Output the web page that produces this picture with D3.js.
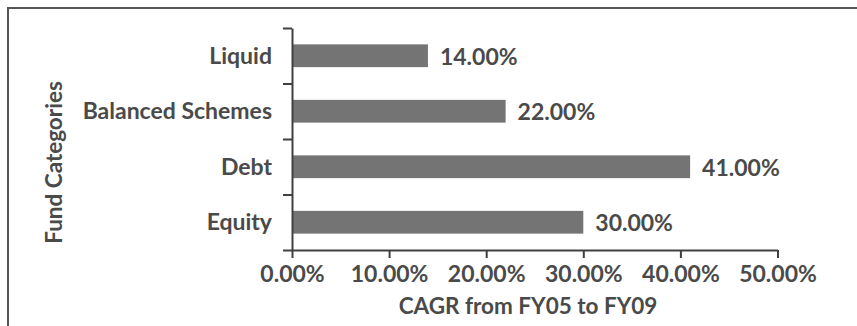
<!DOCTYPE html>
<html>
<head>
<meta charset="utf-8">
<script src="https://cdn.jsdelivr.net/npm/d3@7"></script>
<style>
  html, body { margin: 0; padding: 0; background: #fff; }
  svg { display: block; }
  text { font-family: Lato, "Open Sans", sans-serif; font-weight: 700; fill: #4a4a4a; }
</style>
</head>
<body>
<svg id="chart" width="857" height="326"></svg>
<script>
// Fund categories, listed top to bottom
const categories = ["Liquid", "Balanced Schemes", "Debt", "Equity"];
// Compound annual growth rate, FY05 to FY09
const cagr = [0.14, 0.22, 0.41, 0.30];
// Value axis tick values
const xTicks = [0, 0.1, 0.2, 0.3, 0.4, 0.5];
const xTitle = "CAGR from FY05 to FY09";
const yTitle = "Fund Categories";

const svg = d3.select("#chart");
const W = 857, H = 326;
const plot = { left: 292, right: 777.5, top: 28, bottom: 250 };
const fontSize = 23;
const titleSize = 22.5;

// Outer frame (runs off the right and bottom edges)
svg.append("rect")
  .attr("x", 8).attr("y", 8)
  .attr("width", W + 20).attr("height", H + 20)
  .attr("fill", "none")
  .attr("stroke", "#555")
  .attr("stroke-width", 2);

const x = d3.scaleLinear().domain([0, 0.5]).range([plot.left, plot.right]);
const y = d3.scaleBand().domain(categories)
  .range([plot.top, plot.bottom])
  .paddingInner(0.59).paddingOuter(0.295);
// Category boundaries, used for the category-axis tick marks
const yEdge = d3.scaleLinear().domain([0, categories.length]).range([plot.top, plot.bottom]);

const data = categories.map((c, i) => ({ cat: c, v: cagr[i] }));

// Bars
svg.append("g").selectAll("rect").data(data).join("rect")
  .attr("x", x(0))
  .attr("y", d => y(d.cat))
  .attr("width", d => x(d.v) - x(0))
  .attr("height", y.bandwidth())
  .attr("fill", "#747474");

// Value labels
svg.append("g").selectAll("text").data(data).join("text")
  .attr("x", d => x(d.v) + 12)
  .attr("y", d => y(d.cat) + y.bandwidth() / 2)
  .attr("dy", "0.4em")
  .attr("font-size", fontSize)
  .text(d => d3.format(".2%")(d.v));

// Category axis: ticks at the category boundaries
const yAxis = svg.append("g")
  .attr("transform", `translate(${plot.left},0)`)
  .call(d3.axisLeft(yEdge).tickValues(d3.range(categories.length + 1))
    .tickFormat("").tickSize(9).tickSizeOuter(0));
yAxis.select(".domain").attr("stroke", "#404040").attr("stroke-width", 2);
yAxis.selectAll(".tick line").attr("stroke", "#404040").attr("stroke-width", 2);

// Category labels
svg.append("g").selectAll("text").data(categories).join("text")
  .attr("x", 272)
  .attr("y", d => y(d) + y.bandwidth() / 2)
  .attr("dy", "0.35em")
  .attr("text-anchor", "end")
  .attr("font-size", fontSize)
  .text(d => d);

// Value axis
const xAxis = svg.append("g")
  .attr("transform", `translate(0,${plot.bottom})`)
  .call(d3.axisBottom(x).tickValues(xTicks).tickFormat(d3.format(".2%"))
    .tickSize(8).tickSizeOuter(0).tickPadding(8));
xAxis.attr("font-family", null).attr("font-size", null);
xAxis.select(".domain").attr("stroke", "#404040").attr("stroke-width", 2);
xAxis.selectAll(".tick line").attr("stroke", "#404040").attr("stroke-width", 2);
xAxis.selectAll(".tick text")
  .attr("font-size", fontSize)
  .attr("fill", "#4a4a4a");

// Axis titles
svg.append("text")
  .attr("x", 528).attr("y", 314)
  .attr("text-anchor", "middle")
  .attr("font-size", titleSize)
  .text(xTitle);

svg.append("text")
  .attr("transform", "translate(62,162.5) rotate(-90)")
  .attr("text-anchor", "middle")
  .attr("font-size", titleSize)
  .text(yTitle);
</script>
</body>
</html>
